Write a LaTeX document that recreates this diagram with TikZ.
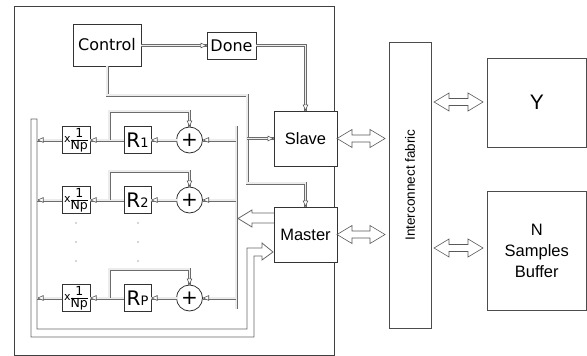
\documentclass[tikz,border=0pt]{standalone}
\usepackage{fontspec}
\setmainfont{Liberation Sans}
\newfontfamily\dv{DejaVu Sans}
\usetikzlibrary{arrows.meta,calc}
\tikzset{
  box/.style={draw=black!80, line width=0.8pt, fill=white, inner sep=0pt, outer sep=0pt},
  gbox/.style={draw=black!70, line width=0.7pt, fill=white, inner sep=0pt, outer sep=0pt},
  pipe/.style={preaction={draw=gray!85!black, line width=3.0pt}, draw=gray!15, line width=1.1pt},
  tip/.style={postaction={draw=gray!70!black, line width=0.6pt, dash pattern=on 0pt off 10000pt,
     -{Triangle[fill=white,length=6.5pt,width=5.5pt]}}},
  hollow/.style={draw=gray!70!black, line width=0.6pt, fill=white},
  thinl/.style={draw=black!60, line width=0.8pt},
}
\newcommand\hollowdbl[2]{\draw[hollow] let \p1=(#1), \p2=(#2) in
  (\x1,\y1) -- (\x1+15pt,\y1+9pt) -- (\x1+15pt,\y1+3.5pt) -- (\x2-15pt,\y1+3.5pt)
  -- (\x2-15pt,\y1+9pt) -- (\x2,\y1) -- (\x2-15pt,\y1-9pt) -- (\x2-15pt,\y1-3.5pt)
  -- (\x1+15pt,\y1-3.5pt) -- (\x1+15pt,\y1-9pt) -- cycle;}
\newcommand\npfrac{\renewcommand\arraystretch{0.72}\setlength\arrayrulewidth{0.6pt}%
  \begin{tabular}[c]{@{}c@{}}1\\\hline Np\end{tabular}}
\begin{document}
\begin{tikzpicture}[x=1pt,y=-1pt]
\useasboundingbox (0,0) rectangle (587,356);
% outer frame
\draw[draw=black!75, line width=0.9pt] (14,6) rectangle (334,355);

% top nodes
\node[box, minimum width=68pt, minimum height=42pt, font=\dv\fontsize{16}{16}\selectfont] (control) at (107,45) {Control};
\node[box, minimum width=49pt, minimum height=27pt, font=\dv\fontsize{16}{16}\selectfont] (done) at (231.5,45.5) {Done};

% wide pipe from accumulators to Master
\draw[thinl] (31,119) -- (37,119) -- (37,329) -- (247,329) -- (247,248) -- (262,248)
  -- (262,243) -- (273,252) -- (262,260) -- (262,256) -- (254,256) -- (254,337) -- (31,337) -- cycle;
% wide arrow from Master to bus
\draw[thinl, fill=white] (274,213) -- (252,213) -- (252,210) -- (238,218.5) -- (252,227) -- (252,223) -- (274,223);

% bus bar
\coordinate (bartop) at (236,126);
\coordinate (barbot) at (236,309);
\draw[pipe] (bartop) -- (barbot);
\coordinate (pipein) at (37,200);

% rows
\foreach \r/\y/\lab in {1/140/1, 2/200/2, 3/298/P}{
  \node[box, circle, minimum size=26pt, font=\dv\fontsize{20}{20}\selectfont] (p\r) at (189.5,\y) {+};
  \node[box, minimum width=27pt, minimum height=27pt] (R\r) at (137.5,\y)
    {{\dv\fontsize{20}{20}\selectfont R}{\dv\fontsize{13}{13}\selectfont \lab}};
  \node[box, minimum width=28pt, minimum height=27pt, font=\dv\fontsize{12.5}{12.5}\selectfont] (xb\r) at (76,\y)
    {\raisebox{1pt}{\fontsize{11}{11}\selectfont x}\npfrac};
  \coordinate (fb\r) at (109,\y);
  \draw[pipe,tip] (bartop |- p\r.east) -- (p\r.east);
  \draw[pipe,tip] (p\r.west) -- (R\r.east);
  \draw[pipe,tip] (R\r.west) -- (xb\r.east);
  \draw[pipe,tip] (xb\r.west) -- (pipein |- xb\r.west);
  \draw[pipe,tip] (fb\r) -- ++(0,-29) -| (p\r.north);
}
% dots
\foreach \yy in {223,242,261}{
  \fill[black!70] (76,\yy) circle (0.6pt);
  \fill[black!70] (138,\yy) circle (0.6pt);
}

% Slave / Master
\node[box, minimum width=63pt, minimum height=55pt, font=\fontsize{16.5}{16.5}\selectfont] (slave) at (305.5,138.5) {Slave};
\node[box, minimum width=63pt, minimum height=55pt, font=\fontsize{16.5}{16.5}\selectfont] (master) at (305.5,234.5) {Master};

% control connections
\coordinate (cm1) at (247,95);
\coordinate (cm2) at (247,183);
\draw[pipe,tip] (control.east |- done.west) -- (done.west);
\draw[pipe,tip] (done.east) -| (slave.north);
\draw[pipe,tip] (control.south) |- (cm1) -- (cm2) -| (master.north);
\draw[pipe,tip] (cm1 |- slave.west) -- (slave.west);

% right side
\node[gbox, minimum width=42pt, minimum height=286pt] (fabric) at (410,185) {};
\node[rotate=90, font=\fontsize{13.5}{13.5}\selectfont] at (fabric.center) {Interconnect fabric};
\node[gbox, minimum width=99.5pt, minimum height=89pt, font=\fontsize{21}{21}\selectfont] (yb) at (536.75,102.5) {Y};
\node[gbox, minimum width=99.5pt, minimum height=119pt, align=center, font=\fontsize{16.5}{21}\selectfont] (buf) at (536.75,250.5) {N\\Samples\\Buffer};

\coordinate (a1) at ($(slave.east)$);
\coordinate (a2) at ($(fabric.west |- slave.east)+(-4,0)$);
\hollowdbl{a1}{a2}
\coordinate (b1) at ($(master.east)$);
\coordinate (b2) at ($(fabric.west |- master.east)+(-4,0)$);
\hollowdbl{b1}{b2}
\coordinate (c1) at ($(fabric.east |- 0,102)+(3,0)$);
\coordinate (c2) at ($(yb.west |- 0,102)+(-4,0)$);
\hollowdbl{c1}{c2}
\coordinate (d1) at ($(fabric.east |- 0,248)+(3,0)$);
\coordinate (d2) at ($(buf.west |- 0,248)+(-4,0)$);
\hollowdbl{d1}{d2}
\end{tikzpicture}
\end{document}
